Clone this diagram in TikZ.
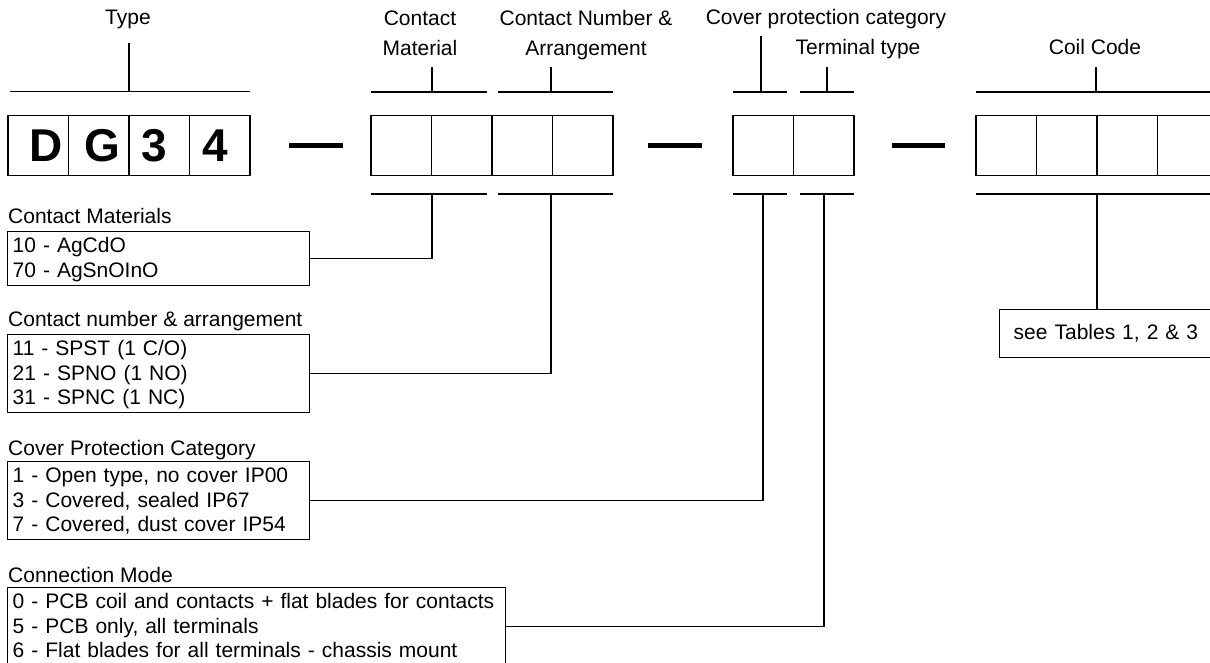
\documentclass[tikz,border=0pt]{standalone}
\usepackage{fontspec}
\setmainfont{Liberation Sans}

\newcommand{\tstrut}{\rule{0pt}{19.5pt}}
\newcommand{\bstrut}{\rule[-6.5pt]{0pt}{6.5pt}}

\tikzset{
  cell/.style={draw, line width=1.8pt, minimum width=60.5pt, minimum height=60pt, inner sep=0pt, font=\fontsize{46}{46}\selectfont\bfseries},
  bar/.style={line width=1.4pt},
  hyphen/.style={line width=5pt},
  lbl/.style={font=\fontsize{21}{30}\selectfont, inner sep=0pt, align=center},
  head/.style={font=\fontsize{21}{21}\selectfont, inner sep=0pt, anchor=base west},
  optbox/.style={draw, line width=1.4pt, anchor=north west, align=left, inner xsep=5pt, inner ysep=1.5pt, font=\fontsize{21}{24.5}\selectfont},
}

\begin{document}
\begin{tikzpicture}[x=1pt, y=-1pt]
\useasboundingbox (0,0) rectangle (1210,663);
% type code
\node[cell] (d) at (38.25,145.5) {\hspace*{16pt}D};
\node[cell] (g) at (98.75,145.5) {\hspace*{7pt}G};
\node[cell] (three) at (159.25,145.5) {3\hspace*{9pt}};
\node[cell] (four) at (219.75,145.5) {4\hspace*{8pt}};
% empty cells
\node[cell] (cm1) at (401.25,145.5) {};
\node[cell] (cm2) at (461.75,145.5) {};
\node[cell] (cn1) at (522.25,145.5) {};
\node[cell] (cn2) at (582.75,145.5) {};
\node[cell] (cp) at (763.25,145.5) {};
\node[cell] (tt) at (823.75,145.5) {};
\foreach \i/\x in {1/1006.25,2/1066.75,3/1127.25,4/1187.75}
  \node[cell] (cc\i) at (\x,145.5) {};
% dashes
\draw[hyphen] (289,146) -- (343,146);
\draw[hyphen] (648,146) -- (702,146);
\draw[hyphen] (892,146) -- (945,146);

% labels on top
\node[lbl, anchor=base] (type) at (128,25) {Type};
\node[lbl, anchor=base] (matl) at (420,56) {Contact\\Material};
\node[lbl, anchor=base] (numarr) at (586,56) {Contact Number \&\\Arrangement};
\node[lbl, anchor=base] (cover) at (826,25) {Cover protection category};
\node[lbl, anchor=base] (term) at (858,55) {Terminal type};
\node[lbl, anchor=base] (coil) at (1095,55) {Coil Code};

\coordinate (typetop) at (129,91.5);
\coordinate (cmtop) at (432,92);
\coordinate (cntop) at (551,92);
\coordinate (cptop) at (761,92);
\coordinate (tttop) at (827,92);
\coordinate (cctop) at (1096,92);
\draw[bar] (10,91.5) -- (250,91.5) (typetop) -- ++(0,-48);
\draw[bar] (371,92) -- (487,92) (cmtop) -- ++(0,-25);
\draw[bar] (498,92) -- (613,92) (cntop) -- ++(0,-25);
\draw[bar] (733,92) -- (787,92) (cptop) -- ++(0,-56);
\draw[bar] (800,92) -- (854,92) (tttop) -- ++(0,-25);
\draw[bar] (976,92) -- (1215,92) (cctop) -- ++(0,-25);

% bars below
\coordinate (cmbot) at (432,194);
\coordinate (cnbot) at (551,194);
\coordinate (cpbot) at (763,194);
\coordinate (ttbot) at (824,194);
\coordinate (ccbot) at (1097,194);
\draw[bar] (371,194) -- (487,194);
\draw[bar] (498,194) -- (613,194);
\draw[bar] (733,194) -- (787,194);
\draw[bar] (800,194) -- (854,194);
\draw[bar] (976,194) -- (1215,194);

% option lists
\node[head] (cmhead) at (8,224) {Contact Materials};
\node[optbox, text width=292pt] (cmbox) at (7,231) {\tstrut 10 - AgCdO\\70 - AgSnOInO\bstrut};
\node[head] (cnhead) at (8,326) {Contact number \& arrangement};
\node[optbox, text width=292pt] (cnbox) at (7,334) {\tstrut 11 - SPST (1 C/O)\\21 - SPNO (1 NO)\\31 - SPNC (1 NC)\bstrut};
\node[head] (cphead) at (8,455) {Cover Protection Category};
\node[optbox, text width=292pt] (cpbox) at (7,461) {\tstrut 1 - Open type, no cover IP00\\3 - Covered, sealed IP67\\7 - Covered, dust cover IP54\bstrut};
\node[head] (tthead) at (8,582) {Connection Mode};
\node[optbox, text width=488pt] (ttbox) at (7,587) {\tstrut 0 - PCB coil and contacts + flat blades for contacts\\5 - PCB only, all terminals\\6 - Flat blades for all terminals - chassis mount\bstrut};
\node[optbox, text width=200pt, inner xsep=14pt, minimum height=48pt] (tables) at (999,309) {see Tables 1, 2 \& 3};

% connectors
\draw[bar] (cmbox.east) -| (cmbot);
\draw[bar] (cnbox.east) -| (cnbot);
\draw[bar] (cpbox.east) -| (cpbot);
\draw[bar] (ttbox.east) -| (ttbot);
\draw[bar] (ccbot) -- (ccbot |- tables.north);
\end{tikzpicture}
\end{document}
